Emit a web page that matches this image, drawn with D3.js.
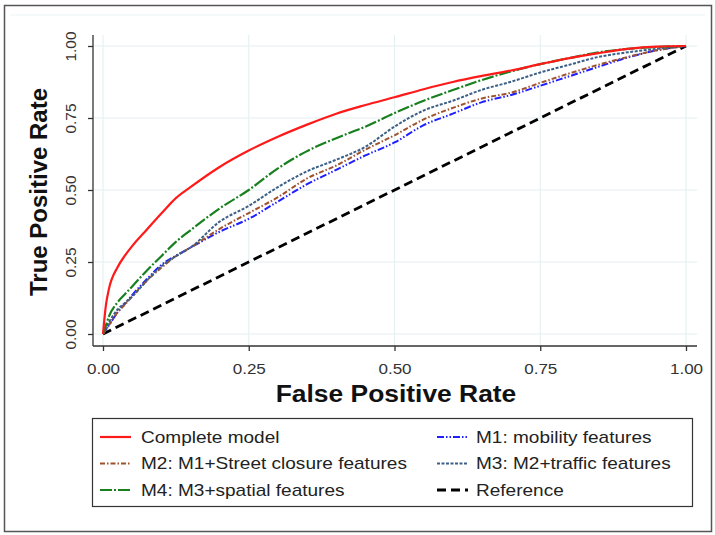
<!DOCTYPE html>
<html>
<head>
<meta charset="utf-8">
<script src="https://cdn.jsdelivr.net/npm/d3@7"></script>
<style>
  html, body { margin: 0; padding: 0; background: #ffffff; }
  svg { display: block; font-family: "Liberation Sans", Arial, sans-serif; }
</style>
</head>
<body>
<svg id="chart" width="715" height="535"></svg>
<script>
// ---- data ----
const fpr = [0, 0.005, 0.01, 0.025, 0.0375, 0.05, 0.075, 0.1, 0.125, 0.15, 0.2, 0.25, 0.3, 0.35, 0.4, 0.45, 0.5, 0.55, 0.6, 0.65, 0.7, 0.75, 0.8, 0.85, 0.9, 0.95, 1];
const completeModel = [0, 0.10, 0.155, 0.232, 0.272, 0.305, 0.362, 0.418, 0.472, 0.51, 0.58, 0.637, 0.685, 0.727, 0.765, 0.795, 0.822, 0.85, 0.875, 0.896, 0.915, 0.937, 0.958, 0.975, 0.99, 0.998, 1];
const m1Mobility   = [0, 0.015, 0.03, 0.075, 0.105, 0.135, 0.19, 0.24, 0.272, 0.30, 0.355, 0.40, 0.46, 0.52, 0.57, 0.62, 0.665, 0.725, 0.765, 0.805, 0.83, 0.862, 0.895, 0.928, 0.96, 0.985, 1];
const m2Street     = [0, 0.015, 0.03, 0.075, 0.102, 0.13, 0.185, 0.23, 0.27, 0.30, 0.365, 0.42, 0.475, 0.54, 0.585, 0.64, 0.69, 0.745, 0.785, 0.818, 0.838, 0.872, 0.905, 0.935, 0.962, 0.985, 1];
const m3Traffic    = [0, 0.02, 0.04, 0.085, 0.108, 0.13, 0.185, 0.235, 0.27, 0.30, 0.39, 0.445, 0.51, 0.565, 0.605, 0.65, 0.72, 0.776, 0.81, 0.848, 0.876, 0.908, 0.935, 0.962, 0.978, 0.99, 1];
const m4Spatial    = [0, 0.03, 0.06, 0.11, 0.138, 0.165, 0.22, 0.27, 0.32, 0.36, 0.436, 0.50, 0.575, 0.635, 0.68, 0.72, 0.767, 0.81, 0.847, 0.882, 0.912, 0.937, 0.958, 0.978, 0.99, 0.997, 1];
const referenceLine = [0, 1];
const referenceFpr  = [0, 1];
const tickValues = [0, 0.25, 0.5, 0.75, 1];
const tickLabels = ["0.00", "0.25", "0.50", "0.75", "1.00"];
const seriesNames = ["Complete model", "M1: mobility features", "M2: M1+Street closure features", "M3: M2+traffic features", "M4: M3+spatial features", "Reference"];

// ---- layout ----
const svg = d3.select("#chart");
const x = d3.scaleLinear().domain([0, 1]).range([103, 686]);
const y = d3.scaleLinear().domain([0, 1]).range([334, 46]);
const plotLeft = 93, plotRight = 697, plotTop = 35, plotBottom = 346;
const stretch = 1.1;

// outer border
svg.append("rect").attr("x", 4.5).attr("y", 5.5).attr("width", 707).attr("height", 526)
  .attr("fill", "#fff").attr("stroke", "#555").attr("stroke-width", 1.5);
svg.append("line").attr("x1", 10).attr("x2", 705).attr("y1", 15).attr("y2", 15)
  .attr("stroke", "#eaf3f3").attr("stroke-width", 1);

// grid
const gridColor = "#e3eff0";
svg.append("g").selectAll("line").data(tickValues).join("line")
  .attr("x1", d => x(d)).attr("x2", d => x(d)).attr("y1", plotTop).attr("y2", plotBottom)
  .attr("stroke", gridColor).attr("stroke-width", 1);
svg.append("g").selectAll("line").data(tickValues).join("line")
  .attr("x1", plotLeft).attr("x2", plotRight).attr("y1", d => y(d)).attr("y2", d => y(d))
  .attr("stroke", gridColor).attr("stroke-width", 1);

// axes
const xAxis = d3.axisBottom(x).tickValues(tickValues).tickFormat((d, i) => tickLabels[i]).tickSize(5).tickSizeOuter(0);
const gx = svg.append("g").attr("transform", `translate(0,${plotBottom})`).call(xAxis);
gx.select(".domain").attr("d", `M${plotLeft},0H${plotRight}`).attr("stroke", "#333").attr("stroke-width", 1.3);
gx.selectAll(".tick line").attr("stroke", "#333").attr("stroke-width", 1.3);
gx.selectAll(".tick text").attr("font-size", 15.5).attr("fill", "#333")
  .attr("font-family", "Liberation Sans, Arial, sans-serif")
  .attr("y", 0).attr("dy", 0)
  .attr("transform", `translate(0,28) scale(${stretch},1)`);

const yAxis = d3.axisLeft(y).tickValues(tickValues).tickFormat((d, i) => tickLabels[i]).tickSize(5).tickSizeOuter(0);
const gy = svg.append("g").attr("transform", `translate(${plotLeft},0)`).call(yAxis);
gy.select(".domain").attr("d", `M0,${plotTop}V${plotBottom}`).attr("stroke", "#333").attr("stroke-width", 1.3);
gy.selectAll(".tick line").attr("stroke", "#333").attr("stroke-width", 1.3);
gy.selectAll(".tick text").attr("font-size", 15.5).attr("fill", "#333")
  .attr("font-family", "Liberation Sans, Arial, sans-serif")
  .attr("x", 0).attr("dy", 0)
  .attr("text-anchor", "middle")
  .attr("transform", "translate(-17,0) rotate(-90)");

// axis titles
svg.append("text").attr("transform", `translate(396,402) scale(${stretch},1)`).attr("text-anchor", "middle")
  .attr("font-size", 24).attr("font-weight", "bold").attr("fill", "#111").text("False Positive Rate");
svg.append("text").attr("transform", "translate(47,192) rotate(-90)").attr("text-anchor", "middle")
  .attr("font-size", 24).attr("font-weight", "bold").attr("fill", "#111").text("True Positive Rate");

// series
const series = [
  { name: seriesNames[5], xs: referenceFpr, ys: referenceLine, color: "#000000", dash: "9,5", width: 2.8 },
  { name: seriesNames[1], xs: fpr, ys: m1Mobility, color: "#1f1fff", dash: "7,2,1.5,2,1.5,2", width: 2 },
  { name: seriesNames[2], xs: fpr, ys: m2Street, color: "#a0522d", dash: "5,2,1.5,2", width: 2 },
  { name: seriesNames[3], xs: fpr, ys: m3Traffic, color: "#3b5f86", dash: "3,1.5", width: 2 },
  { name: seriesNames[4], xs: fpr, ys: m4Spatial, color: "#18801e", dash: "12,2,2,2", width: 2.2 },
  { name: seriesNames[0], xs: fpr, ys: completeModel, color: "#ff1a1a", dash: null, width: 2.2 }
];
const line = d3.line().x(d => x(d[0])).y(d => y(d[1])).curve(d3.curveMonotoneX);
svg.append("g").selectAll("path").data(series).join("path")
  .attr("d", s => line(s.xs.map((v, i) => [v, s.ys[i]])))
  .attr("fill", "none").attr("stroke", s => s.color).attr("stroke-width", s => s.width)
  .attr("stroke-dasharray", s => s.dash).attr("stroke-linejoin", "round");

// legend
svg.append("rect").attr("x", 92.5).attr("y", 418.5).attr("width", 600).attr("height", 88)
  .attr("fill", "#fff").attr("stroke", "#333").attr("stroke-width", 1.2);
const legendOrder = [
  { s: series[5], col: 0, row: 0 },
  { s: series[1], col: 1, row: 0 },
  { s: series[2], col: 0, row: 1 },
  { s: series[3], col: 1, row: 1 },
  { s: series[4], col: 0, row: 2 },
  { s: series[0], col: 1, row: 2 }
];
const lg = svg.append("g").selectAll("g").data(legendOrder).join("g")
  .attr("transform", d => `translate(${d.col === 0 ? 100 : 437},${437 + d.row * 26.5})`);
lg.append("line").attr("x1", 0).attr("x2", 31).attr("y1", 0).attr("y2", 0)
  .attr("stroke", d => d.s.color).attr("stroke-width", d => d.s.width)
  .attr("stroke-dasharray", d => d.s.dash);
lg.append("text").attr("transform", d => `translate(${d.col === 0 ? 41 : 39},0) scale(1.12,1)`).attr("dy", "0.35em")
  .attr("font-size", 17).attr("fill", "#222").text(d => d.s.name);
</script>
</body>
</html>
